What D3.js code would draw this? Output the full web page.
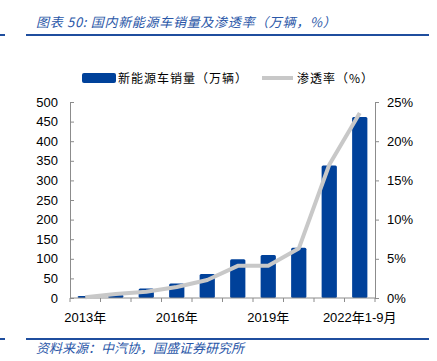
<!DOCTYPE html>
<html>
<head>
<meta charset="utf-8">
<script src="https://cdn.jsdelivr.net/npm/d3@7"></script>
<style>
  body { margin: 0; background: #fff; }
  text { font-family: "Liberation Sans", "Noto Sans CJK SC", sans-serif; }
  .cjk { font-family: "Noto Sans CJK SC", sans-serif; }
</style>
</head>
<body>
<div id="chart"></div>
<script>
// Chart data
const years = ["2013", "2014", "2015", "2016", "2017", "2018", "2019", "2020", "2021", "2022年1-9月"];
const tickLabels = ["2013年", "", "", "2016年", "", "", "2019年", "", "", "2022年1-9月"];
const sales = [5, 9, 24, 37, 61, 99, 110, 128, 338, 462];        // 万辆
const penetration = [0.1, 0.5, 0.8, 1.4, 2.3, 4.1, 4.1, 6.3, 17.0, 23.6]; // %

const width = 437;
const height = 361;
const blue = "#00419a";
const gray = "#c8c8c8";
const axisColor = "#8c8c8c";

const svg = d3.select("#chart")
    .append("svg")
    .attr("width", width)
    .attr("height", height);

// Header and footer
svg.append("text")
    .attr("class", "cjk")
    .attr("x", 36)
    .attr("y", 27)
    .attr("font-size", 13)
    .attr("font-style", "italic")
    .attr("letter-spacing", 0.7)
    .attr("fill", "#2a57a8")
    .text("图表 50:  国内新能源车销量及渗透率（万辆，%）");

[35, 339].forEach(function(y) {
    svg.append("line").attr("x1", 0).attr("x2", 5).attr("y1", y).attr("y2", y)
        .attr("stroke", "#1f4e9e").attr("stroke-width", 2);
    svg.append("line").attr("x1", 26).attr("x2", 429).attr("y1", y).attr("y2", y)
        .attr("stroke", "#1f4e9e").attr("stroke-width", 2);
});

svg.append("text")
    .attr("class", "cjk")
    .attr("x", 36)
    .attr("y", 353)
    .attr("font-size", 13)
    .attr("font-style", "italic")
    .attr("fill", "#2a57a8")
    .text("资料来源：中汽协，国盛证券研究所");

// Scales
const x = d3.scaleBand()
    .domain(years)
    .range([70, 375])
    .paddingInner(0.5)
    .paddingOuter(0.25);

const yLeft = d3.scaleLinear().domain([0, 500]).range([298, 102]);
const yRight = d3.scaleLinear().domain([0, 25]).range([298, 102]);

// Bars
svg.selectAll("rect.bar")
    .data(years)
    .join("rect")
    .attr("class", "bar")
    .attr("x", d => x(d))
    .attr("width", x.bandwidth())
    .attr("y", (d, i) => yLeft(sales[i]))
    .attr("height", (d, i) => yLeft(0) - yLeft(sales[i]))
    .attr("rx", 1.5)
    .attr("fill", blue);

// Left axis
const leftAxis = svg.append("g")
    .attr("transform", "translate(70,0)")
    .call(d3.axisLeft(yLeft).tickValues(d3.range(0, 501, 50)).tickSize(-4).tickPadding(12));
leftAxis.selectAll("text").attr("font-size", 13).attr("fill", "#000")
    .style("font-family", "'Liberation Sans', sans-serif");

// Right axis
const rightAxis = svg.append("g")
    .attr("transform", "translate(375,0)")
    .call(d3.axisRight(yRight).tickValues(d3.range(0, 26, 5)).tickSize(4).tickPadding(8)
        .tickFormat(d => d + "%"));
rightAxis.selectAll("text").attr("font-size", 13).attr("fill", "#000")
    .style("font-family", "'Liberation Sans', sans-serif");

// Bottom axis: ticks between categories
const bottom = svg.append("g");
bottom.append("line")
    .attr("x1", 70).attr("x2", 375).attr("y1", 298).attr("y2", 298);
bottom.selectAll("line.tick")
    .data(d3.range(years.length + 1))
    .join("line")
    .attr("class", "tick")
    .attr("x1", i => 70 + i * x.step())
    .attr("x2", i => 70 + i * x.step())
    .attr("y1", 298).attr("y2", 302);
bottom.selectAll("line").attr("stroke", axisColor);
bottom.selectAll("text")
    .data(years)
    .join("text")
    .attr("x", d => x(d) + x.bandwidth() / 2)
    .attr("y", 322)
    .attr("text-anchor", "middle")
    .attr("font-size", 13)
    .attr("fill", "#000")
    .text((d, i) => tickLabels[i]);

[leftAxis, rightAxis].forEach(function(g) {
    g.select(".domain").attr("stroke", axisColor);
    g.selectAll(".tick line").attr("stroke", axisColor);
});

// Penetration line
const line = d3.line()
    .x((d, i) => x(years[i]) + x.bandwidth() / 2)
    .y(d => yRight(d));

svg.append("path")
    .datum(penetration)
    .attr("d", line)
    .attr("fill", "none")
    .attr("stroke", gray)
    .attr("stroke-width", 4)
    .attr("stroke-linejoin", "round");

// Legend
svg.append("rect")
    .attr("x", 82).attr("y", 73)
    .attr("width", 34).attr("height", 10)
    .attr("rx", 2)
    .attr("fill", blue);
svg.append("text")
    .attr("class", "cjk")
    .attr("x", 118).attr("y", 83)
    .attr("font-size", 12)
    .attr("letter-spacing", 1)
    .text("新能源车销量（万辆）");

svg.append("line")
    .attr("x1", 262).attr("x2", 293)
    .attr("y1", 78).attr("y2", 78)
    .attr("stroke", gray)
    .attr("stroke-width", 4);
svg.append("text")
    .attr("class", "cjk")
    .attr("x", 297).attr("y", 83)
    .attr("font-size", 12)
    .attr("letter-spacing", 1)
    .text("渗透率（%）");
</script>
</body>
</html>
